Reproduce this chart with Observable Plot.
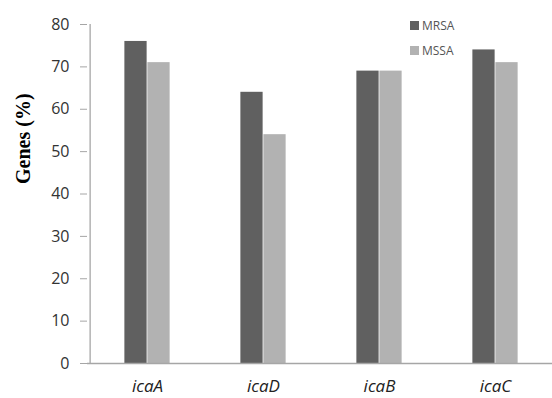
<!DOCTYPE html>
<html>
<head>
<meta charset="utf-8">
<script src="https://cdn.jsdelivr.net/npm/d3@7"></script>
<script src="https://cdn.jsdelivr.net/npm/@observablehq/plot@0.6"></script>
<style>
  html, body { margin: 0; padding: 0; background: #fff; }
  #wrap { position: relative; width: 552px; height: 398px; }
  .legend { position: absolute; left: 410px; top: 19px; font-family: "Open Sans", sans-serif; font-size: 12px; color: #555; }
  .legend div { display: flex; align-items: center; height: 13px; margin-bottom: 12px; }
  .legend span.sw { display: inline-block; width: 9px; height: 9px; margin-right: 3px; }
</style>
</head>
<body>
<div id="wrap"></div>
<script>
const genes = ["icaA", "icaD", "icaB", "icaC"];
const seriesNames = ["MRSA", "MSSA"];
const mrsa = [76, 64, 69, 74];
const mssa = [71, 54, 69, 71];
const yTicks = [0, 10, 20, 30, 40, 50, 60, 70, 80];
const colors = ["#606060", "#b2b2b2"];

const data = genes.flatMap((g, i) => [
  {gene: g, group: seriesNames[0], value: mrsa[i]},
  {gene: g, group: seriesNames[1], value: mssa[i]}
]);

const bw = (554 - 87) / genes.length;
const barW = 23;
const off = (bw - 2 * barW) / 2;

const chart = Plot.plot({
  width: 552,
  height: 398,
  marginLeft: 87,
  marginRight: 0,
  marginTop: 24,
  marginBottom: 35,
  style: {background: "transparent", overflow: "visible"},
  x: {domain: genes, range: [87, 554], padding: 0, label: null},
  y: {domain: [0, 80], label: null},
  color: {domain: seriesNames, range: colors},
  marks: [
    Plot.barY(data.filter(d => d.group === "MRSA"), {x: "gene", y: "value", fill: "group", insetLeft: off, insetRight: bw - off - barW}),
    Plot.barY(data.filter(d => d.group === "MSSA"), {x: "gene", y: "value", fill: "group", insetLeft: off + barW, insetRight: off}),
    Plot.ruleY([0], {stroke: "#a6a6a6", strokeWidth: 1.3}),
    Plot.ruleX([genes[0]], {dx: -bw / 2 + 1, y1: 0, y2: 80, stroke: "#a6a6a6", strokeWidth: 1.3}),
    Plot.axisY({ticks: yTicks, tickSize: 7, tickFormat: d => d, stroke: "#a6a6a6", fill: "#333", fontSize: 16, fontFamily: "Open Sans", tickPadding: 11, label: null}),
    Plot.axisX({tickSize: 0, fontSize: 17, fontFamily: "Open Sans", fontStyle: "italic", fill: "#222", tickPadding: 16, label: null}),
    Plot.text(["Genes (%)"], {frameAnchor: "left", rotate: -90, dx: -64, dy: -10, fontFamily: "Liberation Serif", fontWeight: "bold", fontSize: 20, fill: "#000"})
  ]
});
const wrap = document.getElementById("wrap");
wrap.appendChild(chart);

const legend = document.createElement("div");
legend.className = "legend";
seriesNames.forEach((s, i) => {
  const row = document.createElement("div");
  row.innerHTML = `<span class="sw" style="background:${colors[i]}"></span>${s}`;
  legend.appendChild(row);
});
wrap.appendChild(legend);
</script>
</body>
</html>
